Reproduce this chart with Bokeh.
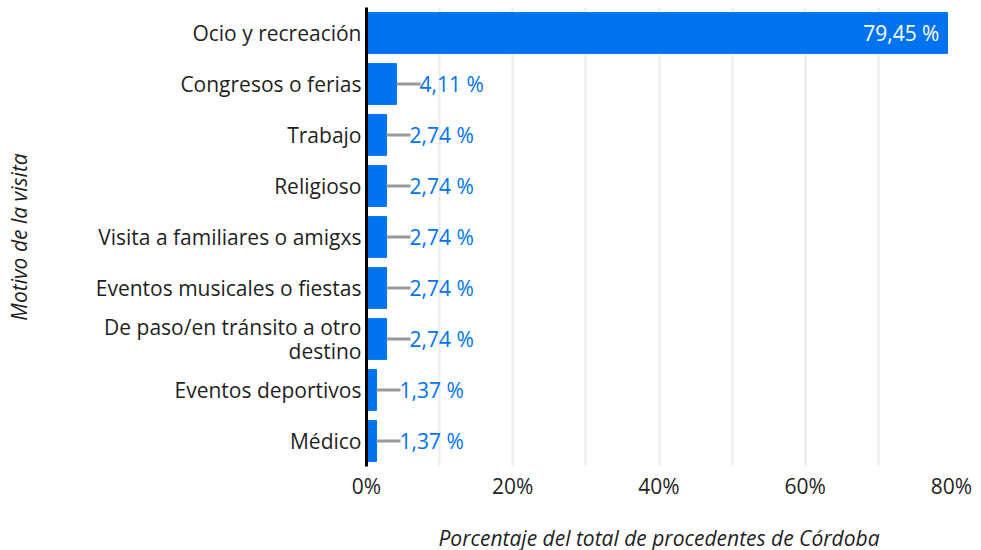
from bokeh.plotting import figure
from bokeh.models import FactorRange, Range1d, FixedTicker, ColumnDataSource
from bokeh.core.properties import value
from bokeh.embed import file_html
from bokeh.resources import INLINE

categories = [
    "Ocio y recreación",
    "Congresos o ferias",
    "Trabajo",
    "Religioso",
    "Visita a familiares o amigxs",
    "Eventos musicales o fiestas",
    "De paso/en tránsito a otro\ndestino",
    "Eventos deportivos",
    "Médico",
]
values = [79.45, 4.11, 2.74, 2.74, 2.74, 2.74, 2.74, 1.37, 1.37]
x_ticks = [0, 20, 40, 60, 80]
x_tick_labels = ["0%", "20%", "40%", "60%", "80%"]
grid_ticks = [0, 10, 20, 30, 40, 50, 60, 70, 80]

FONT = "Open Sans"
FS = "21px"
BAR = "#0073F0"
TXT = "#1f1f1f"
FRAME_W = 585
FRAME_H = 459
X_MAX = 80
GAP_PX = 24
gap = GAP_PX * X_MAX / FRAME_W
INSIDE_MIN = 10

labels = [f"{v:.2f}".replace(".", ",") + " %" for v in values]

src = ColumnDataSource(dict(cat=categories, val=values))
inside = [i for i, v in enumerate(values) if v >= INSIDE_MIN]
outside = [i for i, v in enumerate(values) if v < INSIDE_MIN]
src_in = ColumnDataSource(dict(cat=[categories[i] for i in inside],
                               val=[values[i] for i in inside],
                               lab=[labels[i] for i in inside]))
src_out = ColumnDataSource(dict(cat=[categories[i] for i in outside],
                                val=[values[i] for i in outside],
                                end=[values[i] + gap for i in outside],
                                lab=[labels[i] for i in outside]))

p = figure(frame_width=FRAME_W, frame_height=FRAME_H,
           y_range=FactorRange(factors=categories[::-1]),
           x_range=Range1d(0, X_MAX),
           output_backend="svg", toolbar_location=None,
           min_border_left=366, min_border_right=30,
           min_border_top=7, min_border_bottom=0)
p.outline_line_color = None

p.hbar(y="cat", left=0, right="val", height=0.8, color=BAR, source=src)
p.segment(x0="val", x1="end", y0="cat", y1="cat", line_color="#999999",
          line_width=3, source=src_out)
p.text(x="val", y="cat", text="lab", source=src_out, x_offset=GAP_PX - 1,
       text_align="left", text_baseline="middle", text_font=value(FONT),
       text_font_size=FS, text_color=BAR)
p.text(x="val", y="cat", text="lab", source=src_in, x_offset=-8,
       text_align="right", text_baseline="middle", text_font=value(FONT),
       text_font_size=FS, text_color="white")

p.ygrid.grid_line_color = None
p.xgrid.ticker = FixedTicker(ticks=grid_ticks)
p.xgrid.grid_line_color = "#ebebeb"
p.xgrid.grid_line_width = 2

xa = p.xaxis[0]
xa.ticker = FixedTicker(ticks=x_ticks)
xa.major_label_overrides = {t: l for t, l in zip(x_ticks, x_tick_labels)}
xa.axis_line_color = None
xa.major_tick_line_color = None
xa.minor_tick_line_color = None
xa.major_tick_out = 0
xa.major_label_standoff = 5
xa.major_label_text_font = FONT
xa.major_label_text_font_size = FS
xa.major_label_text_color = TXT
xa.axis_label = "Porcentaje del total de procedentes de Córdoba"
xa.axis_label_text_font = FONT
xa.axis_label_text_font_style = "italic"
xa.axis_label_text_font_size = FS
xa.axis_label_text_color = TXT
xa.axis_label_standoff = 21

ya = p.yaxis[0]
ya.axis_line_color = "black"
ya.axis_line_width = 3
ya.major_tick_line_color = None
ya.major_tick_out = 0
ya.major_label_standoff = 5
ya.major_label_text_font = FONT
ya.major_label_text_font_size = FS
ya.major_label_text_color = TXT
ya.major_label_text_line_height = 0.875
ya.axis_label = "Motivo de la visita"
ya.axis_label_text_font = FONT
ya.axis_label_text_font_style = "italic"
ya.axis_label_text_font_size = FS
ya.axis_label_text_color = TXT
ya.axis_label_standoff = 60

open("out.html", "w").write(file_html(p, INLINE))
